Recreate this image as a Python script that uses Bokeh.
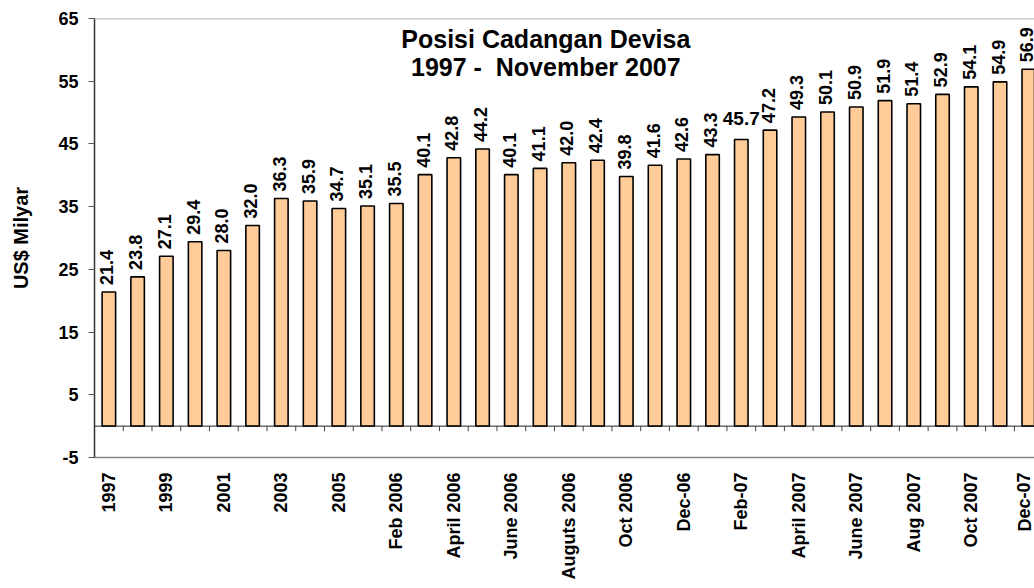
from bokeh.plotting import figure
from bokeh.models import (ColumnDataSource, Range1d, FixedTicker, Span, Label,
                          CDSView, IndexFilter)
from bokeh.core.properties import value
from bokeh.embed import file_html
from bokeh.resources import INLINE

categories = ["1997", "1998", "1999", "2000", "2001", "2002", "2003", "2004", "2005",
              "Jan 2006", "Feb 2006", "Mar 2006", "April 2006", "May 2006", "June 2006",
              "July 2006", "Auguts 2006", "Sep 2006", "Oct 2006", "Nov 2006", "Dec-06",
              "Jan-07", "Feb-07", "Mar-07", "April 2007", "May 2007", "June 2007",
              "July 2007", "Aug 2007", "Sep 2007", "Oct 2007", "Nov 2007", "Dec-07"]
reserves = [21.4, 23.8, 27.1, 29.4, 28.0, 32.0, 36.3, 35.9, 34.7, 35.1, 35.5,
            40.1, 42.8, 44.2, 40.1, 41.1, 42.0, 42.4, 39.8, 41.6, 42.6, 43.3,
            45.7, 47.2, 49.3, 50.1, 50.9, 51.9, 51.4, 52.9, 54.1, 54.9, 56.9]
y_ticks = [-5, 5, 15, 25, 35, 45, 55, 65]
title_lines = ["Posisi Cadangan Devisa", "1997 -\u00a0 November 2007"]
y_label = "US$ Milyar"

FONT = "Liberation Sans"
n = len(categories)
xs = list(range(n))
labels = ["%.1f" % v for v in reserves]

src = ColumnDataSource(dict(x=xs, top=reserves, label=labels, cat=categories))

p = figure(width=1034, height=588, output_backend="svg", toolbar_location=None,
           x_range=Range1d(-0.5, 32.2), y_range=Range1d(-5, 65),
           min_border_left=94, min_border_right=0, min_border_top=18,
           min_border_bottom=131)
p.outline_line_color = None
p.xgrid.visible = False
p.ygrid.visible = False
p.background_fill_color = "white"
p.border_fill_color = "white"

p.vbar(x="x", top="top", bottom=0, width=0.47, source=src,
       fill_color="#FFCC99", line_color="black", line_width=1.6)

# zero line with category boundary ticks
p.add_layout(Span(location=0, dimension="width", line_color="#222222", line_width=1))
bx = [i + 0.5 for i in range(n - 1)]
p.segment(x0=bx, y0=[0] * len(bx), x1=bx, y1=[-0.8] * len(bx),
          line_color="#444444", line_width=1)
# top border
p.add_layout(Span(location=65, dimension="width", line_color="#999999", line_width=1.5))

# value labels
vert = CDSView(filter=IndexFilter([i for i in range(n) if i != 22]))
p.text(x="x", y="top", text="label", source=src, view=vert, angle=1.5708,
       text_align="left", text_baseline="middle", y_offset=-7, x_offset=-2,
       text_font=value(FONT), text_font_size="18px", text_font_style="bold",
       text_color="black")
horiz = CDSView(filter=IndexFilter([22]))
p.text(x="x", y="top", text="label", source=src, view=horiz, angle=0,
       text_align="center", text_baseline="bottom", y_offset=-15, x_offset=0,
       text_font=value(FONT), text_font_size="19px", text_font_style="bold",
       text_color="black")

# title
p.add_layout(Label(x=15.2, y=61.8, text=title_lines[0], text_align="center",
                   text_baseline="middle", text_font=FONT, text_font_size="25px",
                   text_font_style="bold", text_color="black"))
p.add_layout(Label(x=15.2, y=57.3, text=title_lines[1], text_align="center",
                   text_baseline="middle", text_font=FONT, text_font_size="25px",
                   text_font_style="bold", text_color="black"))

# x axis
xa = p.xaxis[0]
xa.ticker = FixedTicker(ticks=xs[::2])
xa.major_label_overrides = {i: categories[i] for i in xs}
xa.major_label_orientation = 1.5708
xa.major_label_text_font = FONT
xa.major_label_text_font_size = "18px"
xa.major_label_text_font_style = "bold"
xa.major_label_text_color = "black"
xa.major_label_standoff = 9
xa.major_tick_line_color = None
xa.minor_tick_line_color = None
xa.axis_line_color = "#888888"
xa.axis_line_width = 1.5

# y axis
ya = p.yaxis[0]
ya.ticker = FixedTicker(ticks=y_ticks)
ya.major_label_overrides = {t: str(t) for t in y_ticks}
ya.major_label_text_font = FONT
ya.major_label_text_font_size = "18px"
ya.major_label_text_font_style = "bold"
ya.major_label_text_color = "black"
ya.major_label_standoff = 10
ya.major_tick_out = 6
ya.major_tick_in = 0
ya.major_tick_line_color = "#555555"
ya.minor_tick_line_color = None
ya.axis_line_color = "#333333"
ya.axis_line_width = 1.5
ya.axis_label = y_label
ya.axis_label_text_font = FONT
ya.axis_label_text_font_size = "20px"
ya.axis_label_text_font_style = "bold"
ya.axis_label_text_color = "black"
ya.axis_label_standoff = 23

open("out.html", "w").write(file_html(p, INLINE))
